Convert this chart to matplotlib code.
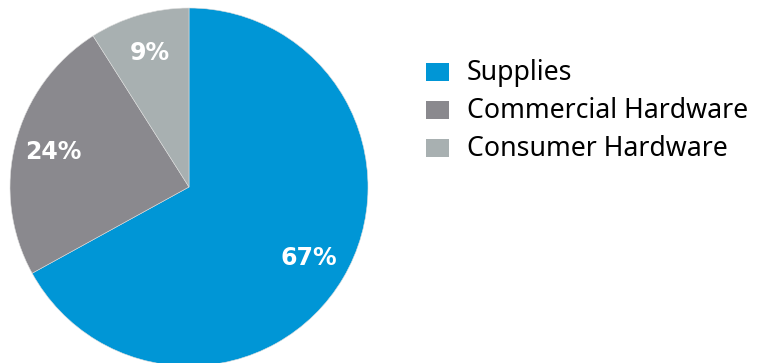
import matplotlib.pyplot as plt
from matplotlib.patches import Rectangle

# revenue split
segments = ['Supplies', 'Commercial Hardware', 'Consumer Hardware']
shares = [67, 24, 9]
colors = ['#0096D6', '#8A898E', '#A8B0B1']

plt.rcParams['font.family'] = ['Noto Sans', 'DejaVu Sans']

fig = plt.figure(figsize=(7.6, 3.63), dpi=100)

# pie axes, slightly cut off at the bottom like the original
ax = fig.add_axes([10 / 760, -3 / 363, 358 / 760, 358 / 363])
wedges, texts, autotexts = ax.pie(shares, colors=colors, startangle=90, counterclock=False,
                                  autopct='%d%%', pctdistance=0.78,
                                  wedgeprops=dict(edgecolor='#dddddd', linewidth=0.4))
for t in autotexts:
    t.set_fontfamily('DejaVu Sans')
    t.set_fontweight('bold')
    t.set_fontsize(17)
    t.set_color('white')
ax.set_xlim(-1, 1)
ax.set_ylim(-1, 1)
ax.set_aspect('equal')
ax.axis('off')

# legend drawn by hand
y0 = 73
step = 38
for i, (name, c) in enumerate(zip(segments, colors)):
    yc = y0 + i * step
    fig.add_artist(Rectangle((426 / 760, 1 - (yc + 8) / 363), 23 / 760, 18 / 363,
                             transform=fig.transFigure, facecolor=c, edgecolor='none'))
    fig.text(467 / 760, 1 - yc / 363, name, fontsize=19.2, color='black', va='center', ha='left')

plt.savefig('out.png', dpi=100)
